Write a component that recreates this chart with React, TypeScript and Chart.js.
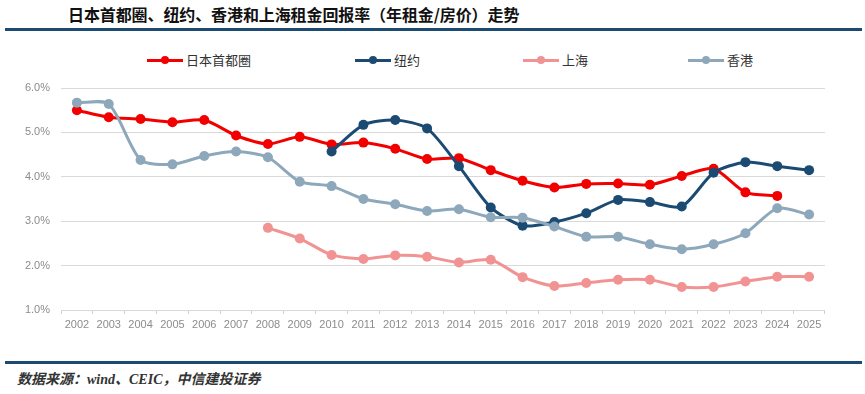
import React, { useEffect, useRef } from "react";
import { Chart, registerables } from "chart.js";

Chart.register(...registerables);

const years = ["2002","2003","2004","2005","2006","2007","2008","2009","2010","2011","2012","2013","2014","2015","2016","2017","2018","2019","2020","2021","2022","2023","2024","2025"];
const tokyo = [5.50,5.34,5.30,5.23,5.28,4.93,4.74,4.90,4.73,4.77,4.63,4.40,4.42,4.15,3.91,3.76,3.84,3.85,3.82,4.02,4.18,3.65,3.57,null];
const newYork = [null,null,null,null,null,null,null,null,4.57,5.17,5.28,5.09,4.24,3.31,2.90,2.98,3.18,3.48,3.43,3.33,4.09,4.33,4.24,4.15];
const shanghai = [null,null,null,null,null,null,2.85,2.61,2.24,2.15,2.23,2.20,2.07,2.13,1.74,1.54,1.61,1.68,1.68,1.52,1.52,1.64,1.75,1.75];
const hongKong = [5.67,5.64,4.38,4.28,4.47,4.57,4.44,3.89,3.79,3.50,3.38,3.23,3.27,3.09,3.08,2.88,2.65,2.65,2.48,2.37,2.48,2.73,3.29,3.15];

const seriesNames = ["日本首都圈", "纽约", "上海", "香港"];
const seriesColors = ["#f20000", "#1b4a72", "#f29393", "#8ea8bb"];
const legendX = [147, 355, 523, 688];

const titleText = "日本首都圈、纽约、香港和上海租金回报率（年租金/房价）走势";
const sourceText = "数据来源：wind、CEIC，中信建投证券";

export default function App() {
  const canvasRef = useRef<HTMLCanvasElement | null>(null);

  useEffect(() => {
    const seriesData = [tokyo, newYork, shanghai, hongKong];
    const orders = [4, 3, 2, 1];
    const chart = new Chart(canvasRef.current as HTMLCanvasElement, {
      type: "line",
      data: {
        labels: years,
        datasets: seriesNames.map((name, i) => ({
          label: name,
          data: seriesData[i],
          borderColor: seriesColors[i],
          backgroundColor: seriesColors[i],
          pointBackgroundColor: seriesColors[i],
          pointBorderColor: seriesColors[i],
          borderWidth: 3,
          pointRadius: 5,
          pointBorderWidth: 0,
          tension: 0.25,
          spanGaps: false,
          order: orders[i],
        })),
      },
      options: {
        animation: false,
        responsive: false,
        maintainAspectRatio: false,
        layout: { autoPadding: false, padding: { left: 0, right: 40, top: 10, bottom: 0 } },
        plugins: {
          legend: { display: false },
          tooltip: { enabled: false },
        },
        scales: {
          x: {
            offset: true,
            grid: {
              offset: true,
              display: true,
              drawOnChartArea: false,
              drawTicks: true,
              tickLength: 4,
              color: "#d0d0d0",
            },
            border: { display: false },
            ticks: {
              color: "#8c8c8c",
              font: { size: 11, family: "'Liberation Sans', Arial, sans-serif" },
              padding: 4,
              maxRotation: 0,
              autoSkip: false,
            },
            afterFit: (scale: any) => { scale.height = 30; scale.paddingLeft = 0; scale.paddingRight = 0; },
          },
          y: {
            min: 1,
            max: 6,
            grid: { color: "#d9d9d9", drawTicks: false, lineWidth: 1 },
            border: { display: false },
            ticks: {
              stepSize: 1,
              padding: 11,
              color: "#8c8c8c",
              font: { size: 11, family: "'Liberation Sans', Arial, sans-serif" },
              callback: (v: any) => Number(v).toFixed(1) + "%",
            },
            afterFit: (scale: any) => { scale.width = 61; scale.paddingTop = 0; scale.paddingBottom = 0; },
          },
        },
      },
    });
    return () => chart.destroy();
  }, []);

  const cjk = "'Noto Sans CJK SC', 'Noto Sans', sans-serif";

  return (
    <div style={{ position: "absolute", left: 0, top: 0, width: 865, height: 394, background: "#fff", overflow: "hidden" }}>
      <div style={{ position: "absolute", left: 68, top: 4, fontFamily: cjk, fontWeight: 700, fontSize: 16, lineHeight: "20px", color: "#111", whiteSpace: "nowrap", letterSpacing: "-0.1px" }}>
        {titleText}
      </div>
      <div style={{ position: "absolute", left: 5, top: 28, width: 857, height: 3, background: "#1d4a70" }} />
      {seriesNames.map((name, i) => (
        <div key={name} style={{ position: "absolute", left: legendX[i], top: 51, height: 18, display: "flex", alignItems: "center", whiteSpace: "nowrap" }}>
          <div style={{ position: "relative", width: 36, height: 18 }}>
            <div style={{ position: "absolute", left: 0, top: 7.5, width: 36, height: 3, background: seriesColors[i] }} />
            <div style={{ position: "absolute", left: 14, top: 5, width: 8, height: 8, borderRadius: 4, background: seriesColors[i] }} />
          </div>
          <span style={{ marginLeft: 3, fontFamily: cjk, fontSize: 13, color: "#333", lineHeight: "18px" }}>{name}</span>
        </div>
      ))}
      <canvas ref={canvasRef} width={865} height={262} style={{ position: "absolute", left: 0, top: 78, width: 865, height: 262 }} />
      <div style={{ position: "absolute", left: 5, top: 361, width: 857, height: 3, background: "#1d4a70" }} />
      <div style={{ position: "absolute", left: 17, top: 370, fontFamily: "'Liberation Serif', 'Noto Sans CJK SC', serif", fontStyle: "italic", fontWeight: 700, fontSize: 14, lineHeight: "20px", color: "#333", whiteSpace: "nowrap" }}>
        {sourceText}
      </div>
    </div>
  );
}
